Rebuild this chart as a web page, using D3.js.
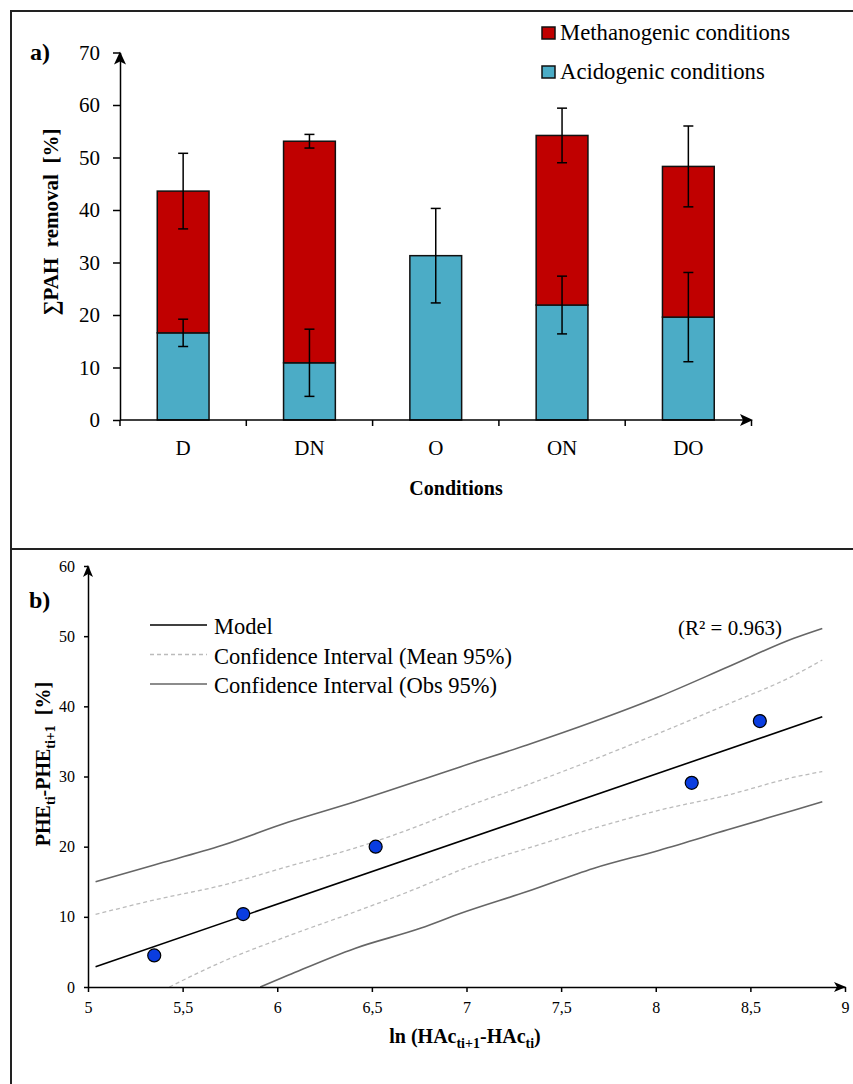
<!DOCTYPE html>
<html>
<head>
<meta charset="utf-8">
<script src="https://cdn.jsdelivr.net/npm/d3@7"></script>
<style>
  html, body { margin: 0; padding: 0; background: #fff; }
  svg { display: block; }
  text { font-family: "Liberation Serif", "Times New Roman", serif; fill: #000; }
  .pre { white-space: pre; }
</style>
</head>
<body>
<svg id="chart" width="853" height="1084"></svg>
<script>
// ---------- Panel a data ----------
const categories = ["D", "DN", "O", "ON", "DO"];
const acidogenic = [16.6, 10.9, 31.3, 21.9, 19.6];
const methanogenic = [27.0, 42.2, 0, 32.3, 28.7];   // stacked on top of acidogenic
const acidErr = [2.6, 6.4, 9.0, 5.5, 8.5];
const totalErr = [7.2, 1.3, null, 5.2, 7.7];
const yTicksA = [0, 10, 20, 30, 40, 50, 60, 70];
const legendA = ["Methanogenic conditions", "Acidogenic conditions"];

// ---------- Panel b data ----------
const obsX = [5.35, 5.82, 6.52, 8.19, 8.55];
const obsY = [4.5, 10.4, 20.0, 29.1, 37.9];
const modelX = [5.04, 8.88];
const modelY = [2.9, 38.5];
const upperX = [5.04, 5.35, 5.71, 6.06, 6.41, 6.76, 6.97, 7.32, 7.67, 8.02, 8.38, 8.73, 8.88];
const upperObs = [15.0, 17.4, 20.2, 23.5, 26.4, 29.5, 31.4, 34.5, 37.8, 41.4, 45.6, 49.7, 51.1];
const upperMean = [10.35, 12.4, 14.5, 17.2, 19.8, 23.1, 25.4, 28.8, 32.4, 36.2, 40.3, 44.4, 46.6];
const lowerMeanX = [5.43, 5.71, 6.06, 6.41, 6.76, 6.97, 7.32, 7.67, 8.02, 8.38, 8.73, 8.88];
const lowerMean = [0, 3.6, 7.3, 10.7, 14.3, 16.7, 19.75, 22.6, 25.2, 27.35, 29.9, 30.7];
const lowerObsX = [5.91, 6.06, 6.41, 6.76, 6.97, 7.32, 7.67, 8.02, 8.38, 8.73, 8.88];
const lowerObs = [0, 1.7, 5.5, 8.4, 10.5, 13.6, 16.9, 19.5, 22.4, 25.2, 26.4];
const xTicksB = [5, 5.5, 6, 6.5, 7, 7.5, 8, 8.5, 9];
const yTicksB = [0, 10, 20, 30, 40, 50, 60];
const legendB = ["Model", "Confidence Interval (Mean 95%)", "Confidence Interval (Obs 95%)"];
const r2Label = "(R² = 0.963)";

const RED = "#C00000", TEAL = "#4BACC6";

const svg = d3.select("#chart");
svg.append("rect").attr("width", 853).attr("height", 1084).attr("fill", "#fff");

// frame
svg.append("path").attr("d", "M11,1084V11H853").attr("fill", "none").attr("stroke", "#222").attr("stroke-width", 2);
svg.append("line").attr("x1", 11).attr("x2", 853).attr("y1", 549).attr("y2", 549).attr("stroke", "#222").attr("stroke-width", 2);

// ================= Panel a =================
const gA = svg.append("g");
const xA = d3.scaleBand().domain(categories).range([120, 751.5]).padding(0);
const yA = d3.scaleLinear().domain([0, 70]).range([420, 52.5]);
const barW = xA.bandwidth() * 0.41;

const rows = categories.map((c, i) => ({ cat: c, acid: acidogenic[i], meth: methanogenic[i] }));
const stack = d3.stack().keys(["acid", "meth"])(rows);
const colors = { acid: TEAL, meth: RED };

stack.forEach(layer => {
  gA.append("g").selectAll("rect").data(layer.filter(d => d[1] > d[0]))
    .join("rect")
    .attr("x", d => xA(d.data.cat) + xA.bandwidth() / 2 - barW / 2)
    .attr("y", d => yA(d[1]))
    .attr("width", barW)
    .attr("height", d => yA(d[0]) - yA(d[1]))
    .attr("fill", colors[layer.key])
    .attr("stroke", "#111").attr("stroke-width", 1.5);
});

// error bars
function errBar(g, cx, v, e, cap, sy) {
  const t = sy(v + e), b = sy(v - e);
  g.append("line").attr("x1", cx).attr("x2", cx).attr("y1", t).attr("y2", b);
  g.append("line").attr("x1", cx - cap).attr("x2", cx + cap).attr("y1", t).attr("y2", t);
  g.append("line").attr("x1", cx - cap).attr("x2", cx + cap).attr("y1", b).attr("y2", b);
}
const eg = gA.append("g").attr("stroke", "#000").attr("stroke-width", 1.5);
categories.forEach((c, i) => {
  const cx = xA(c) + xA.bandwidth() / 2;
  errBar(eg, cx, acidogenic[i], acidErr[i], 5, yA);
  if (totalErr[i] != null) errBar(eg, cx, acidogenic[i] + methanogenic[i], totalErr[i], 5, yA);
});

// y axis
const yAxisA = gA.append("g").attr("transform", "translate(120,0)")
  .call(d3.axisLeft(yA).tickValues(yTicksA).tickSize(7).tickSizeOuter(0).tickPadding(13));
yAxisA.select(".domain").attr("stroke", "#000").attr("stroke-width", 1.5);
yAxisA.selectAll(".tick line").attr("stroke", "#000").attr("stroke-width", 1.5);
yAxisA.selectAll("text").style("font-family", '"Liberation Serif", serif').style("font-size", "21px");
gA.append("path").attr("d", `M120,${yA(70) - 1}l-6,13l6,-3l6,3z`).attr("fill", "#000");

// x axis
const xAxisA = gA.append("g").attr("transform", `translate(0,${yA(0)})`)
  .call(d3.axisBottom(xA).tickSize(0).tickPadding(20));
xAxisA.select(".domain").remove();
xAxisA.selectAll("text").style("font-family", '"Liberation Serif", serif').style("font-size", "21px");
gA.append("line").attr("x1", 120).attr("x2", 750).attr("y1", yA(0)).attr("y2", yA(0)).attr("stroke", "#000").attr("stroke-width", 1.5);
gA.append("path").attr("d", `M753,${yA(0)}l-13,-6l3,6l-3,6z`).attr("fill", "#000");
gA.append("g").selectAll("line").data(categories.map(c => xA(c)).concat([xA.range()[1]]))
  .join("line")
  .attr("x1", d => d).attr("x2", d => d)
  .attr("y1", yA(0)).attr("y2", yA(0) + 6)
  .attr("stroke", "#000").attr("stroke-width", 1.5);

// legend a
legendA.forEach((t, i) => {
  const y = 27 + i * 39;
  gA.append("rect").attr("x", 542).attr("y", y).attr("width", 13).attr("height", 12)
    .attr("fill", i === 0 ? RED : TEAL).attr("stroke", "#111").attr("stroke-width", 1.5);
  gA.append("text").attr("x", 560).attr("y", y + 13).style("font-size", "22.7px").text(t);
});

// titles a
gA.append("text").attr("x", 30).attr("y", 60).style("font-size", "24px").style("font-weight", "bold").text("a)");
gA.append("text").attr("class", "pre")
  .attr("transform", "translate(58,222) rotate(-90)").attr("text-anchor", "middle")
  .style("font-size", "21px").style("font-weight", "bold").text("∑PAH  removal  [%]");
gA.append("text").attr("x", 456).attr("y", 495).attr("text-anchor", "middle")
  .style("font-size", "20px").style("font-weight", "bold").text("Conditions");

// ================= Panel b =================
const gB = svg.append("g");
const xB = d3.scaleLinear().domain([5, 9]).range([88, 845]);
const yB = d3.scaleLinear().domain([0, 60]).range([987, 566]);

const line = d3.line().x(d => xB(d[0])).y(d => yB(d[1])).curve(d3.curveMonotoneX);
const zipXY = (xs, ys) => xs.map((x, i) => [x, ys[i]]);

gB.append("path").datum(zipXY(upperX, upperObs)).attr("d", line)
  .attr("fill", "none").attr("stroke", "#666").attr("stroke-width", 1.6);
gB.append("path").datum(zipXY(lowerObsX, lowerObs)).attr("d", line)
  .attr("fill", "none").attr("stroke", "#666").attr("stroke-width", 1.6);
gB.append("path").datum(zipXY(upperX, upperMean)).attr("d", line)
  .attr("fill", "none").attr("stroke", "#bbb").attr("stroke-width", 1.3).attr("stroke-dasharray", "4,3");
gB.append("path").datum(zipXY(lowerMeanX, lowerMean)).attr("d", line)
  .attr("fill", "none").attr("stroke", "#bbb").attr("stroke-width", 1.3).attr("stroke-dasharray", "4,3");
gB.append("path").datum(zipXY(modelX, modelY)).attr("d", d3.line().x(d => xB(d[0])).y(d => yB(d[1])))
  .attr("fill", "none").attr("stroke", "#000").attr("stroke-width", 1.6);

gB.append("g").selectAll("circle").data(zipXY(obsX, obsY)).join("circle")
  .attr("cx", d => xB(d[0])).attr("cy", d => yB(d[1])).attr("r", 6.5)
  .attr("fill", "#0A3DE0").attr("stroke", "#000").attr("stroke-width", 1.2);

// axes b
const yAxisB = gB.append("g").attr("transform", "translate(88,0)")
  .call(d3.axisLeft(yB).tickValues(yTicksB).tickSize(4).tickSizeOuter(0).tickPadding(9));
yAxisB.select(".domain").attr("stroke", "#000").attr("stroke-width", 1.5);
yAxisB.selectAll(".tick line").attr("stroke", "#000").attr("stroke-width", 1.5);
yAxisB.selectAll("text").style("font-family", '"Liberation Serif", serif').style("font-size", "16px");
gB.append("path").attr("d", `M88,${yB(60) - 1}l-5,12l5,-3l5,3z`).attr("fill", "#000");

const xAxisB = gB.append("g").attr("transform", `translate(0,${yB(0)})`)
  .call(d3.axisBottom(xB).tickValues(xTicksB).tickSize(5).tickSizeOuter(0).tickPadding(10)
    .tickFormat(d => String(d).replace(".", ",")));
xAxisB.select(".domain").attr("stroke", "#000").attr("stroke-width", 1.5);
xAxisB.selectAll(".tick line").attr("stroke", "#000").attr("stroke-width", 1.5);
xAxisB.selectAll("text").style("font-family", '"Liberation Serif", serif').style("font-size", "16px");
gB.append("path").attr("d", `M846,${yB(0)}l-12,-5l3,5l-3,5z`).attr("fill", "#000");

// legend b
const legStyles = [
  { stroke: "#000", dash: null, w: 1.6 },
  { stroke: "#bbb", dash: "4,3", w: 1.3 },
  { stroke: "#666", dash: null, w: 1.6 }
];
legendB.forEach((t, i) => {
  const y = 625 + i * 29.5;
  gB.append("line").attr("x1", 150).attr("x2", 207).attr("y1", y).attr("y2", y)
    .attr("stroke", legStyles[i].stroke).attr("stroke-width", legStyles[i].w)
    .attr("stroke-dasharray", legStyles[i].dash);
  gB.append("text").attr("x", 214).attr("y", y + 9).style("font-size", "22.5px").text(t);
});
gB.append("text").attr("x", 678).attr("y", 635).style("font-size", "21px").text(r2Label);

// titles b
gB.append("text").attr("x", 29).attr("y", 608).style("font-size", "24px").style("font-weight", "bold").text("b)");

const yt = gB.append("text").attr("class", "pre")
  .attr("transform", "translate(50,764) rotate(-90)").attr("text-anchor", "middle")
  .style("font-size", "20px").style("font-weight", "bold");
yt.append("tspan").text("PHE");
yt.append("tspan").attr("dy", 5).style("font-size", "14px").text("ti");
yt.append("tspan").attr("dy", -5).text("-PHE");
yt.append("tspan").attr("dy", 5).style("font-size", "14px").text("ti+1");
yt.append("tspan").attr("dy", -5).text("  [%]");

const xt = gB.append("text").attr("x", 465).attr("y", 1043).attr("text-anchor", "middle")
  .style("font-size", "20px").style("font-weight", "bold");
xt.append("tspan").text("ln (HAc");
xt.append("tspan").attr("dy", 5).style("font-size", "14px").text("ti+1");
xt.append("tspan").attr("dy", -5).text("-HAc");
xt.append("tspan").attr("dy", 5).style("font-size", "14px").text("ti");
xt.append("tspan").attr("dy", -5).text(")");
</script>
</body>
</html>
